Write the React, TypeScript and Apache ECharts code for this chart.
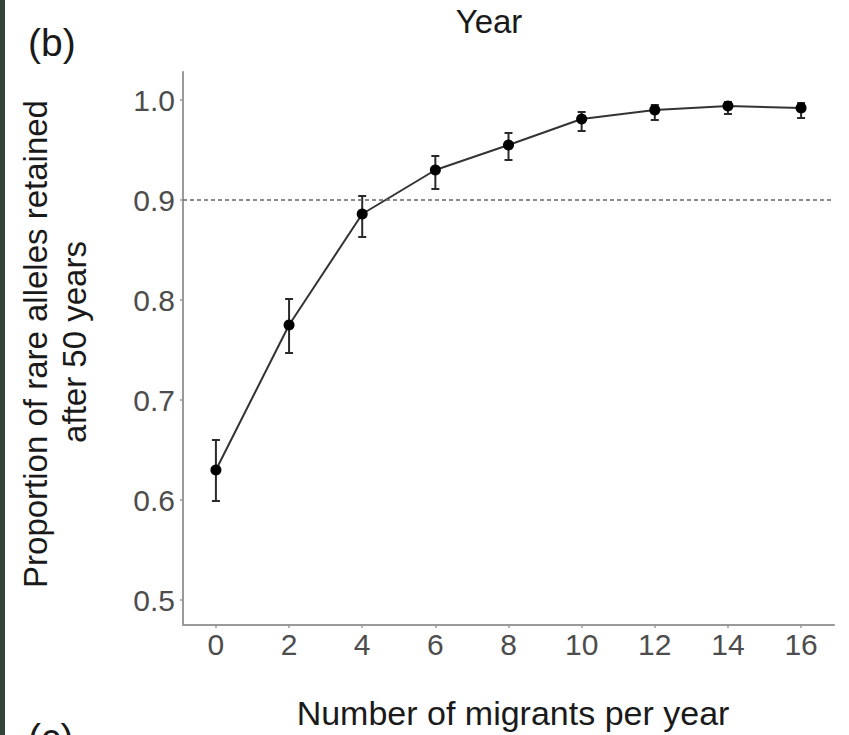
import React, { useEffect, useRef } from "react";
import * as echarts from "echarts";

const migrants = [0, 2, 4, 6, 8, 10, 12, 14, 16];
const meanRetained = [0.63, 0.775, 0.886, 0.93, 0.955, 0.981, 0.99, 0.994, 0.992];
const lowerBound = [0.599, 0.747, 0.863, 0.911, 0.94, 0.969, 0.98, 0.986, 0.982];
const upperBound = [0.66, 0.801, 0.904, 0.944, 0.967, 0.988, 0.995, 0.998, 0.997];
const xTicks = [0, 2, 4, 6, 8, 10, 12, 14, 16];
const yTicks = [0.5, 0.6, 0.7, 0.8, 0.9, 1.0];
const thresholdValue = 0.9;

const FONT = "Liberation Sans, Arial, Helvetica, sans-serif";

export default function App() {
  const ref = useRef<HTMLDivElement>(null);
  useEffect(() => {
    if (!ref.current) return;
    const chart = echarts.init(ref.current, null, { renderer: "svg" });
    const lineData = migrants.map((x, i) => [x, meanRetained[i]]);
    const errData = migrants.map((x, i) => [x, lowerBound[i], upperBound[i]]);
    chart.setOption({
      animation: false,
      backgroundColor: "#ffffff",
      grid: { left: 183, right: 15, top: 72, bottom: 110, containLabel: false },
      xAxis: {
        type: "value",
        min: -0.9,
        max: 16.9,
        splitLine: { show: false },
        axisLine: { show: true, onZero: false, lineStyle: { color: "#9a9a9a", width: 2 } },
        axisTick: { show: true, length: 3, customValues: xTicks, lineStyle: { color: "#9a9a9a", width: 1.5 } },
        axisLabel: {
          customValues: xTicks,
          color: "#4d4d4d",
          fontSize: 30,
          fontFamily: FONT,
          margin: 4,
        },
      },
      yAxis: {
        type: "value",
        min: 0.475,
        max: 1.028,
        splitLine: { show: false },
        axisLine: { show: true, onZero: false, lineStyle: { color: "#9a9a9a", width: 2 } },
        axisTick: { show: true, length: 3, customValues: yTicks, lineStyle: { color: "#9a9a9a", width: 1.5 } },
        axisLabel: {
          customValues: yTicks,
          color: "#4d4d4d",
          fontSize: 30,
          fontFamily: FONT,
          margin: 8,
          formatter: (v: number) => v.toFixed(1),
        },
      },
      series: [
        {
          type: "custom",
          data: errData,
          z: 2,
          renderItem: (params: any, api: any) => {
            const x = api.value(0);
            const lo = api.coord([x, api.value(1)]);
            const hi = api.coord([x, api.value(2)]);
            const hw = 4;
            const style = { stroke: "#2a2a2a", lineWidth: 2 };
            return {
              type: "group",
              children: [
                { type: "line", shape: { x1: lo[0], y1: lo[1], x2: hi[0], y2: hi[1] }, style },
                { type: "line", shape: { x1: lo[0] - hw, y1: lo[1], x2: lo[0] + hw, y2: lo[1] }, style },
                { type: "line", shape: { x1: hi[0] - hw, y1: hi[1], x2: hi[0] + hw, y2: hi[1] }, style },
              ],
            };
          },
        },
        {
          type: "line",
          data: lineData,
          z: 3,
          symbol: "circle",
          symbolSize: 11,
          itemStyle: { color: "#000000" },
          lineStyle: { color: "#333333", width: 2 },
          markLine: {
            silent: true,
            symbol: "none",
            label: { show: false },
            lineStyle: { color: "#666666", width: 1.5, type: [4, 3] },
            data: [{ yAxis: thresholdValue }],
          },
        },
      ],
      graphic: [
        { type: "rect", left: 0, top: 0, shape: { width: 5, height: 735 }, style: { fill: "#34433a" } },
        {
          type: "text",
          x: 489,
          y: 21,
          style: { text: "Year", fontSize: 33, fontFamily: FONT, fill: "#1a1a1a", textAlign: "center", textVerticalAlign: "middle" },
        },
        {
          type: "text",
          x: 28,
          y: 42,
          style: { text: "(b)", fontSize: 39, fontFamily: FONT, fill: "#1a1a1a", textAlign: "left", textVerticalAlign: "middle" },
        },
        {
          type: "text",
          x: 28,
          y: 737,
          style: { text: "(c)", fontSize: 39, fontFamily: FONT, fill: "#1a1a1a", textAlign: "left", textVerticalAlign: "middle" },
        },
        {
          type: "text",
          x: 513,
          y: 713,
          style: { text: "Number of migrants per year", fontSize: 34, fontFamily: FONT, fill: "#1a1a1a", textAlign: "center", textVerticalAlign: "middle" },
        },
        {
          type: "text",
          x: 35,
          y: 344,
          rotation: Math.PI / 2,
          style: { text: "Proportion of rare alleles retained", fontSize: 33, fontFamily: FONT, fill: "#1a1a1a", textAlign: "center", textVerticalAlign: "middle" },
        },
        {
          type: "text",
          x: 74,
          y: 342,
          rotation: Math.PI / 2,
          style: { text: "after 50 years", fontSize: 33, fontFamily: FONT, fill: "#1a1a1a", textAlign: "center", textVerticalAlign: "middle" },
        },
      ],
    });
    return () => chart.dispose();
  }, []);
  return <div ref={ref} style={{ position: "fixed", left: 0, top: 0, width: 849, height: 735 }} />;
}
